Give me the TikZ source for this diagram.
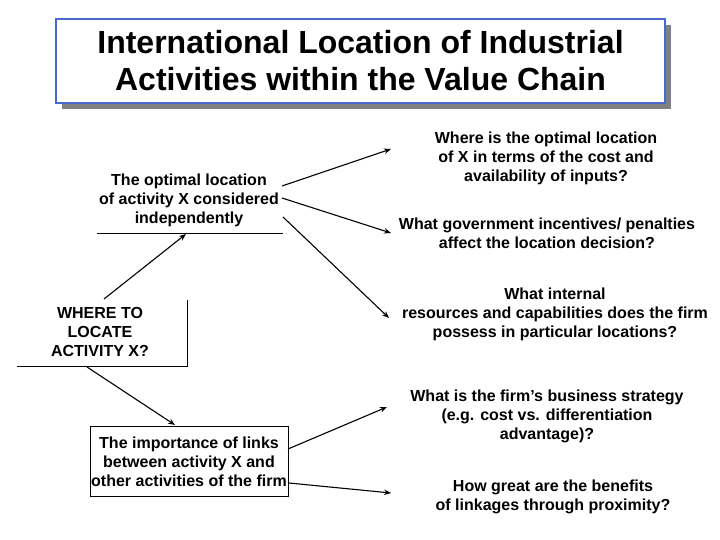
\documentclass[tikz,border=0pt]{standalone}
\usepackage{fontspec}
\setmainfont{Liberation Sans}
\usetikzlibrary{arrows.meta,shadows}
\definecolor{titleblue}{RGB}{72,104,204}
\definecolor{shadowgray}{RGB}{128,128,128}
\begin{document}
\begin{tikzpicture}[x=1pt,y=-1pt,
  lbl/.style={font=\fontsize{16}{19}\selectfont\bfseries, align=center, inner sep=0pt},
  conn/.style={line width=1.1pt, -{Stealth[length=7pt,width=5.5pt]}},
  rulel/.style={line width=0.9pt}]
\useasboundingbox (0,0) rectangle (720,540);
% title
\node[draw=titleblue, fill=white, line width=1.5pt, minimum width=609pt, minimum height=84pt,
      align=center, font=\fontsize{32}{37}\selectfont\bfseries,
      drop shadow={shadow xshift=6pt, shadow yshift=-6pt, fill=shadowgray, opacity=1}]
  (title) at (360.5,61) {International Location of Industrial\\Activities within the Value Chain};
% left nodes
\node[lbl] (A) at (189,200) {The optimal location\\of activity X considered\\independently};
\node[lbl] (B) at (100,332) {WHERE TO\\LOCATE\\ACTIVITY X?};
\node[lbl, draw, line width=0.9pt, minimum width=198pt, minimum height=70pt] (C) at (189,461.5)
  {The importance of links\\between activity X and\\other activities of the firm};
% partial borders
\coordinate (Aul) at (97,233);  \coordinate (Aur) at (283,233);
\draw[rulel] (Aul) -- (Aur);
\coordinate (Bbl) at (17,366); \coordinate (Bbr) at (187,366); \coordinate (Btr) at (187,300);
\draw[rulel] (Bbl) -- (Bbr) -- (Btr);
% right texts
\node[lbl] (R1) at (546,158.5) {Where is the optimal location\\of X in terms of the cost and\\availability of inputs?};
\node[lbl] (R2) at (547,233) {What government incentives/ penalties\\affect the location decision?};
\node[lbl] (R3) at (555,314.5) {What internal\\resources and capabilities does the firm\\possess in particular locations?};
\node[lbl] (R4) at (547,416.5) {What is the firm’s business strategy\\(e.g. cost vs. differentiation\\advantage)?};
\node[lbl] (R5) at (553,496.5) {How great are the benefits\\of linkages through proximity?};
% arrow end points
\coordinate (a1s) at (282,186); \coordinate (a1e) at (391,149);
\coordinate (a2s) at (282,198); \coordinate (a2e) at (391,233);
\coordinate (a3s) at (283,217); \coordinate (a3e) at (389,318);
\coordinate (bas) at (104,299); \coordinate (bae) at (186,234);
\coordinate (bcs) at (87,367);  \coordinate (bce) at (175,425);
\coordinate (c4s) at (288,449); \coordinate (c4e) at (387,407);
\coordinate (c5s) at (289,483); \coordinate (c5e) at (391,493);
\draw[conn] (a1s) -- (a1e);
\draw[conn] (a2s) -- (a2e);
\draw[conn] (a3s) -- (a3e);
\draw[conn] (bas) -- (bae);
\draw[conn] (bcs) -- (bce);
\draw[conn] (c4s) -- (c4e);
\draw[conn] (c5s) -- (c5e);
\end{tikzpicture}
\end{document}
